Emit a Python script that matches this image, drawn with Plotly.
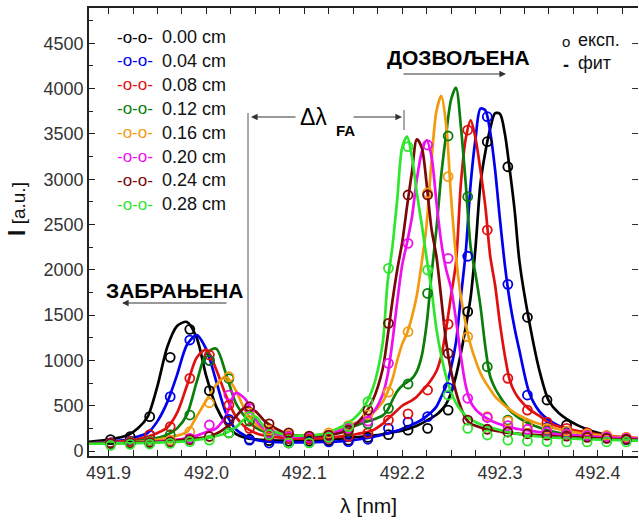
import plotly.graph_objects as go

# ---------------- data ----------------
LABELS = ["0.00 cm", "0.04 cm", "0.08 cm", "0.12 cm", "0.16 cm", "0.20 cm", "0.24 cm", "0.28 cm"]
COLORS = ["#000000", "#0000ee", "#e01010", "#0a7d0a", "#f29a10", "#ee10ee", "#7a0808", "#2ee62e"]

# wavelength grid of the fitted curves (nm)
LAM_FIT = [491.88, 491.90, 491.92, 491.93, 491.94, 491.95, 491.96, 491.97, 491.98, 491.99,
           492.00, 492.01, 492.02, 492.03, 492.04, 492.05, 492.06,
           492.08, 492.10, 492.12, 492.14, 492.15, 492.16, 492.17, 492.18,
           492.185, 492.19, 492.195, 492.20, 492.205, 492.21, 492.215, 492.22, 492.225, 492.23,
           492.235, 492.24, 492.245, 492.25, 492.255, 492.26, 492.265, 492.27, 492.275, 492.28,
           492.285, 492.29, 492.295, 492.30, 492.305, 492.31, 492.315, 492.32,
           492.33, 492.34, 492.35, 492.36, 492.38, 492.40, 492.42, 492.445]

FIT_000 = [100, 125, 177, 250, 380, 720, 1150, 1380, 1425, 1250,
           820, 490, 300, 190, 145, 129, 120,
           115, 118, 125, 140, 150, 160, 170, 185,
           195, 205, 215, 225, 240, 258, 280, 305, 335, 365,
           400, 450, 520, 640, 830, 1080, 1370, 1700, 2250, 2950,
           3300, 3560, 3730, 3720, 3500, 3100, 2650, 2080,
           1420, 900, 550, 420, 280, 200, 145, 110]
FIT_004 = [85, 100, 130, 160, 200, 330, 540, 840, 1170, 1280,
           1120, 770, 420, 240, 165, 125, 105,
           95, 95, 100, 110, 120, 135, 155, 180,
           195, 210, 225, 245, 265, 290, 315, 345, 385, 430,
           490, 600, 720, 920, 1200, 1700, 2200, 2950, 3450, 3780,
           3760, 3520, 3100, 2550, 2050, 1650, 1350, 1100,
           640, 440, 340, 280, 210, 170, 140, 120]
FIT_008 = [85, 95, 115, 130, 160, 200, 260, 420, 720, 1030,
           1120, 900, 610, 380, 260, 200, 170,
           145, 135, 140, 165, 180, 200, 230, 300,
           350, 400, 450, 500, 530, 560, 600, 660, 720, 790,
           880, 1050, 1350, 1720, 2080, 2950, 3450, 3650, 3450, 3100,
           2700, 2150, 1830, 1400, 1050, 780, 650, 570,
           460, 390, 310, 270, 220, 185, 160, 140]
FIT_012 = [85, 90, 100, 110, 125, 145, 180, 250, 400, 760,
           1080, 1130, 850, 530, 370, 260, 210,
           175, 160, 177, 240, 270, 310, 345, 390,
           450, 560, 660, 720, 760, 800, 880, 1050, 1400, 1950,
           2450, 3050, 3500, 3880, 4010, 3580, 2950, 2250, 1950, 1600,
           1150, 820, 690, 600, 520, 450, 400, 360,
           300, 260, 225, 200, 170, 150, 135, 125]
FIT_016 = [85, 88, 95, 100, 110, 125, 145, 170, 210, 380,
           560, 730, 820, 670, 440, 300, 230,
           180, 165, 190, 260, 300, 350, 420, 540,
           650, 790, 1000, 1180, 1300, 1480, 1720, 2080, 2500, 3200,
           3750, 3920, 3600, 2800, 2150, 1700, 1400, 1170, 1000, 860,
           760, 680, 600, 550, 500, 460, 420, 390,
           340, 300, 270, 240, 200, 175, 155, 140]
FIT_020 = [85, 88, 92, 95, 100, 105, 115, 125, 140, 170,
           210, 250, 390, 640, 570, 350, 240,
           170, 155, 175, 240, 290, 340, 420, 620,
           830, 1200, 1650, 2050, 2300, 2580, 3000, 3300, 3430, 3250,
           2750, 2300, 2000, 1800, 1450, 1050, 720, 540, 460, 410,
           370, 340, 315, 295, 280, 265, 250, 240,
           225, 210, 195, 185, 170, 155, 145, 135]
FIT_024 = [85, 87, 90, 92, 95, 100, 108, 118, 130, 140,
           150, 190, 260, 380, 485, 440, 325,
           200, 165, 170, 210, 270, 380, 560, 900,
           1250, 1650, 2000, 2300, 2700, 3080, 3440, 3350, 2950, 2450,
           2150, 1680, 1200, 880, 650, 480, 360, 300, 280, 260,
           245, 235, 225, 215, 205, 200, 195, 190,
           180, 175, 165, 160, 150, 140, 130, 125]
FIT_028 = [80, 82, 85, 87, 90, 93, 97, 102, 110, 122,
           140, 165, 200, 260, 360, 380, 260,
           180, 170, 190, 280, 350, 470, 690, 1180,
           1850, 2250, 2780, 3350, 3470, 3250, 2850, 2500, 2130, 1780,
           1350, 1050, 820, 650, 530, 450, 390, 350, 320, 295,
           275, 260, 245, 230, 220, 205, 195, 185,
           170, 160, 150, 145, 135, 125, 120, 115]

# wavelength grid of the measured points (nm)
LAM_EXP = [491.902, 491.922, 491.942, 491.963, 491.983, 492.003, 492.023, 492.044, 492.064,
           492.084, 492.105, 492.125, 492.145, 492.165, 492.186, 492.206, 492.226, 492.247,
           492.267, 492.287, 492.308, 492.328, 492.348, 492.368, 492.389, 492.409, 492.429]

EXP_000 = [125, 158, 379, 1034, 1343, 666, 200, 130, 115, 110, 110, 115, 120, 150, 180, 230,
           250, 452, 1538, 3414, 3138, 1476, 563, 287, 200, 160, 135]
EXP_004 = [90, 110, 177, 600, 1225, 1000, 350, 121, 88, 88, 95, 100, 103, 130, 250, 320,
           379, 700, 2150, 3690, 1840, 618, 260, 210, 170, 145, 125]
EXP_008 = [90, 105, 180, 268, 802, 1060, 508, 250, 170, 140, 130, 140, 160, 200, 340, 410,
           673, 1400, 3543, 2439, 802, 452, 320, 250, 200, 170, 150]
EXP_012 = [85, 95, 110, 180, 397, 1000, 800, 330, 200, 170, 155, 170, 220, 300, 471, 740,
           1740, 3477, 2807, 930, 342, 287, 220, 195, 170, 150, 130]
EXP_016 = [85, 90, 100, 120, 213, 533, 820, 420, 230, 180, 165, 200, 280, 400, 650, 1317,
           2850, 3028, 1262, 379, 330, 290, 250, 220, 190, 170, 150]
EXP_020 = [85, 88, 92, 100, 140, 287, 618, 470, 200, 160, 150, 170, 250, 330, 968, 2292,
           3378, 2127, 582, 370, 280, 240, 210, 190, 170, 155, 140]
EXP_024 = [85, 88, 92, 100, 125, 160, 330, 490, 300, 200, 165, 175, 230, 452, 1409, 2826,
           2826, 1078, 342, 240, 210, 190, 175, 165, 150, 140, 130]
EXP_028 = [63, 74, 77, 85, 103, 121, 200, 380, 180, 90, 90, 150, 270, 544, 2016, 3359,
           1998, 618, 250, 177, 120, 110, 105, 100, 100, 100, 100]

FITS = [FIT_000, FIT_004, FIT_008, FIT_012, FIT_016, FIT_020, FIT_024, FIT_028]
EXPS = [EXP_000, EXP_004, EXP_008, EXP_012, EXP_016, EXP_020, EXP_024, EXP_028]

X_TICKS = [491.9, 492.0, 492.1, 492.2, 492.3, 492.4]
X_TICK_TEXT = ["491.9", "492.0", "492.1", "492.2", "492.3", "492.4"]
Y_TICKS = [0, 500, 1000, 1500, 2000, 2500, 3000, 3500, 4000, 4500]

# ---------------- layout geometry (pixels) ----------------
W, H = 639, 520
L, R, T, B = 89, 1, 8, 64
PW, PH = W - L - R, H - T - B


def px(x):
    return (x - L) / PW


def py(y):
    return (H - B - y) / PH


FONT = "Liberation Sans, Arial, sans-serif"

fig = go.Figure()

for fit, col in zip(FITS, COLORS):
    fig.add_trace(go.Scatter(x=LAM_FIT, y=fit, mode="lines",
                             line=dict(color=col, width=2.7, shape="spline", smoothing=0.8),
                             showlegend=False, hoverinfo="skip"))
for exp, col in zip(EXPS, COLORS):
    fig.add_trace(go.Scatter(x=LAM_EXP, y=exp, mode="markers",
                             marker=dict(symbol="circle-open", size=9, color=col,
                                         line=dict(width=1.8, color=col)),
                             showlegend=False, hoverinfo="skip"))

# helper trace for right-hand ticks
fig.add_trace(go.Scatter(x=[491.9], y=[0], yaxis="y2", mode="markers",
                         marker=dict(opacity=0), showlegend=False, hoverinfo="skip"))

ann = []
# legend block
for i, (lab, col) in enumerate(zip(LABELS, COLORS)):
    yc = 37 + 23.9 * i
    ann.append(dict(x=px(115), y=py(yc), xref="paper", yref="paper", text="-o-o-",
                    showarrow=False, xanchor="left", yanchor="middle",
                    font=dict(family=FONT, size=17, color=col)))
    ann.append(dict(x=px(160), y=py(yc), xref="paper", yref="paper", text=lab,
                    showarrow=False, xanchor="left", yanchor="middle",
                    font=dict(family=FONT, size=18, color="#111")))

# exp / fit key
ann.append(dict(x=px(560), y=py(42), xref="paper", yref="paper", text="o",
                showarrow=False, xanchor="left", yanchor="middle",
                font=dict(family=FONT, size=15, color="#111")))
ann.append(dict(x=px(576), y=py(40), xref="paper", yref="paper", text="експ.",
                showarrow=False, xanchor="left", yanchor="middle",
                font=dict(family=FONT, size=18, color="#111")))
ann.append(dict(x=px(561), y=py(65), xref="paper", yref="paper", text="<b>-</b>",
                showarrow=False, xanchor="left", yanchor="middle",
                font=dict(family=FONT, size=18, color="#111")))
ann.append(dict(x=px(576), y=py(63), xref="paper", yref="paper", text="фит",
                showarrow=False, xanchor="left", yanchor="middle",
                font=dict(family=FONT, size=18, color="#111")))

# region labels
ann.append(dict(x=px(458), y=py(57), xref="paper", yref="paper", text="<b>ДОЗВОЉЕНА</b>",
                showarrow=False, xanchor="center", yanchor="middle",
                font=dict(family=FONT, size=21, color="#000")))
ann.append(dict(x=px(174), y=py(290), xref="paper", yref="paper", text="<b>ЗАБРАЊЕНА</b>",
                showarrow=False, xanchor="center", yanchor="middle",
                font=dict(family=FONT, size=21, color="#000")))
ann.append(dict(x=px(298), y=py(117), xref="paper", yref="paper", text="Δλ",
                showarrow=False, xanchor="left", yanchor="middle",
                font=dict(family=FONT, size=23, color="#000")))
ann.append(dict(x=px(334), y=py(130), xref="paper", yref="paper", text="<b>FA</b>",
                showarrow=False, xanchor="left", yanchor="middle",
                font=dict(family=FONT, size=15, color="#000")))

# arrows (head at x,y; tail offset ax,ay in pixels)
for hx, hy, tx, ty in [(506, 74, 402, 74), (122, 303, 228, 303),
                       (251, 117, 297, 117), (402, 117, 352, 117)]:
    ann.append(dict(x=px(hx), y=py(hy), xref="paper", yref="paper", text="",
                    showarrow=True, arrowhead=2, arrowsize=1.1, arrowwidth=1.2,
                    arrowcolor="#333", ax=tx - hx, ay=ty - hy))

# axis titles
ann.append(dict(x=px(17), y=py(209), xref="paper", yref="paper",
                text="<span style='font-size:23px'><b>I</b></span> [a.u.]",
                textangle=-90, showarrow=False, xanchor="center", yanchor="middle",
                font=dict(family=FONT, size=19, color="#111")))
ann.append(dict(x=px(368), y=py(505), xref="paper", yref="paper", text="λ [nm]",
                showarrow=False, xanchor="center", yanchor="middle",
                font=dict(family=FONT, size=21, color="#111")))

shapes = [
    dict(type="line", xref="paper", yref="paper", x0=px(248), x1=px(248),
         y0=py(113), y1=py(392), line=dict(color="#555", width=1)),
    dict(type="line", xref="paper", yref="paper", x0=px(404), x1=px(404),
         y0=py(110), y1=py(130), line=dict(color="#555", width=1)),
]

fig.update_layout(
    width=W, height=H,
    margin=dict(l=L, r=R, t=T, b=B),
    paper_bgcolor="white", plot_bgcolor="white",
    annotations=ann, shapes=shapes,
    xaxis=dict(range=[491.880, 492.441], tickvals=X_TICKS, ticktext=X_TICK_TEXT,
               ticks="inside", ticklen=6, tickwidth=1.2, tickcolor="#222",
               minor=dict(dtick=0.025, tick0=491.9, ticks="inside", ticklen=4, tickcolor="#222"),
               showline=True, linecolor="#222", linewidth=1.6, mirror="allticks",
               showgrid=False, zeroline=False,
               tickfont=dict(family=FONT, size=18, color="#333")),
    yaxis=dict(range=[-55, 4890], tickvals=Y_TICKS,
               ticks="inside", ticklen=6, tickwidth=1.2, tickcolor="#222",
               minor=dict(dtick=250, tick0=0, ticks="inside", ticklen=4, tickcolor="#222"),
               showline=True, linecolor="#222", linewidth=1.6,
               showgrid=False, zeroline=False,
               tickfont=dict(family=FONT, size=18, color="#333")),
    yaxis2=dict(range=[-55, 4890], overlaying="y", side="right", tickvals=Y_TICKS,
                ticks="inside", ticklen=6, tickwidth=1.3, tickcolor="#333",
                showticklabels=False, anchor="x",
                showline=False, showgrid=False, zeroline=False),
)

fig.write_html("out.html")
